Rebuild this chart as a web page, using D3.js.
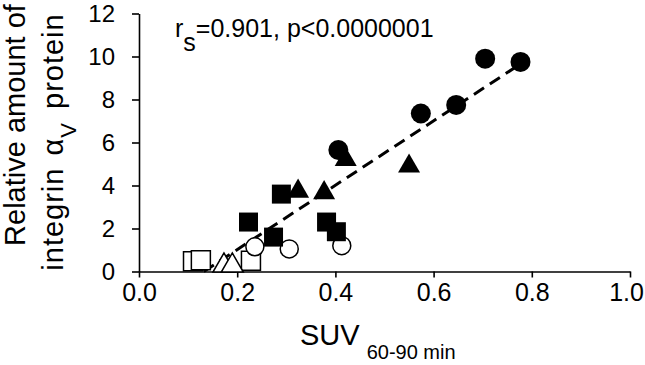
<!DOCTYPE html>
<html>
<head>
<meta charset="utf-8">
<script src="https://cdn.jsdelivr.net/npm/d3@7"></script>
<style>
  body { margin: 0; background: #fff; }
  svg { display: block; font-family: "Liberation Sans", Arial, sans-serif; }
</style>
</head>
<body>
<div id="chart"></div>
<script>
// axis ticks
const xTicks = [0, 0.2, 0.4, 0.6, 0.8, 1.0];
const yTicks = [0, 2, 4, 6, 8, 10, 12];

// groups (SUV, relative integrin amount)
const filledCircleX = [0.705, 0.777, 0.646, 0.574, 0.406];
const filledCircleY = [9.9, 9.75, 7.75, 7.35, 5.65];
const filledTriangleX = [0.421, 0.55, 0.324, 0.377];
const filledTriangleY = [5.2, 4.9, 3.73, 3.66];
const filledSquareX = [0.223, 0.29, 0.274, 0.382, 0.402];
const filledSquareY = [2.3, 3.6, 1.6, 2.3, 1.85];
const openCircleX = [0.236, 0.306, 0.413];
const openCircleY = [1.15, 1.05, 1.2];
const openSquareX = [0.11, 0.126, 0.228];
const openSquareY = [0.48, 0.52, 0.5];
const openTriangleX = [0.173, 0.19];
const openTriangleY = [0.27, 0.27];

// fitted line ends
const fitX = [0.132, 0.78];
const fitY = [0.0, 9.7];

const width = 645, height = 365;

const svg = d3.select("#chart").append("svg")
  .attr("width", width)
  .attr("height", height);

const x = d3.scaleLinear().domain([0, 1]).range([139, 630]);
const y = d3.scaleLinear().domain([0, 12]).range([271.5, 13.5]);

// axes
const xAxis = svg.append("g")
  .attr("transform", `translate(0,${y(0)})`)
  .call(d3.axisBottom(x).tickValues(xTicks).tickSize(6).tickSizeOuter(0).tickPadding(6).tickFormat(d3.format(".1f")));
xAxis.selectAll("text").style("font-size", "25px").attr("fill", "#000")
  .attr("dx", d => d === 1 ? -4 : 0); // keep last label inside the frame

const yAxis = svg.append("g")
  .attr("transform", `translate(${x(0)},0)`)
  .call(d3.axisLeft(y).tickValues(yTicks).tickSize(7).tickSizeOuter(0).tickPadding(17));
yAxis.selectAll("text").style("font-size", "24px").attr("fill", "#000");

svg.selectAll(".domain, .tick line").attr("stroke", "#000").attr("stroke-width", 1.6);

// build one list of points
function pts(xs, ys, shape, open) {
  return xs.map((v, i) => ({ x: v, y: ys[i], shape, open }));
}
const points = [].concat(
  pts(openSquareX, openSquareY, d3.symbolSquare, true),
  pts(openTriangleX, openTriangleY, d3.symbolTriangle, true),
  pts(openCircleX, openCircleY, d3.symbolCircle, true),
  pts(filledSquareX, filledSquareY, d3.symbolSquare, false),
  pts(filledTriangleX, filledTriangleY, d3.symbolTriangle, false),
  pts(filledCircleX, filledCircleY, d3.symbolCircle, false)
);

function symSize(d) {
  if (d.shape === d3.symbolSquare) return 19 * 19;
  if (d.shape === d3.symbolTriangle) return Math.sqrt(3) / 4 * 22 * 22;
  return d.open ? Math.PI * 9 * 9 : Math.PI * 10 * 10;
}

// dashed fit line
svg.append("line")
  .attr("x1", x(fitX[0])).attr("y1", y(fitY[0]))
  .attr("x2", x(fitX[1])).attr("y2", y(fitY[1]))
  .attr("stroke", "#000")
  .attr("stroke-width", 3)
  .attr("stroke-dasharray", "12,7");

svg.selectAll("path.pt")
  .data(points)
  .join("path")
  .attr("class", "pt")
  .attr("transform", d => `translate(${x(d.x)},${y(d.y)})`)
  .attr("d", d => d3.symbol().type(d.shape).size(symSize(d))())
  .attr("fill", d => d.open ? "#fff" : "#000")
  .attr("stroke", "#000")
  .attr("stroke-width", d => d.open ? 1.5 : 0);

// statistic label
const stat = svg.append("text").attr("y", 37).style("font-size", "25px").attr("fill", "#000");
stat.append("tspan").attr("x", 175).text("r");
stat.append("tspan").attr("dy", 14).text("s");
stat.append("tspan").attr("dy", -14).text("=0.901, p<0.0000001");

// x title
const xt = svg.append("text").attr("y", 345).attr("fill", "#000");
xt.append("tspan").attr("x", 300).style("font-size", "29px").text("SUV");
xt.append("tspan").attr("dx", 7).attr("dy", 14).style("font-size", "20px").text("60-90 min");

// y title
const yt = svg.append("g").attr("transform", "rotate(-90)");
yt.append("text")
  .attr("x", -125).attr("y", 25)
  .attr("text-anchor", "middle")
  .style("font-size", "29px")
  .text("Relative amount of");
const yt2 = yt.append("text")
  .attr("x", -142).attr("y", 63)
  .attr("text-anchor", "middle")
  .style("font-size", "29px")
  .style("letter-spacing", "1px");
yt2.append("tspan").text("integrin ");
yt2.append("tspan").attr("dx", 3).text("\u03b1");
yt2.append("tspan").attr("dy", 13).style("font-size", "22px").text("V");
yt2.append("tspan").attr("dx", 4).attr("dy", -13).text(" protein");
</script>
</body>
</html>
